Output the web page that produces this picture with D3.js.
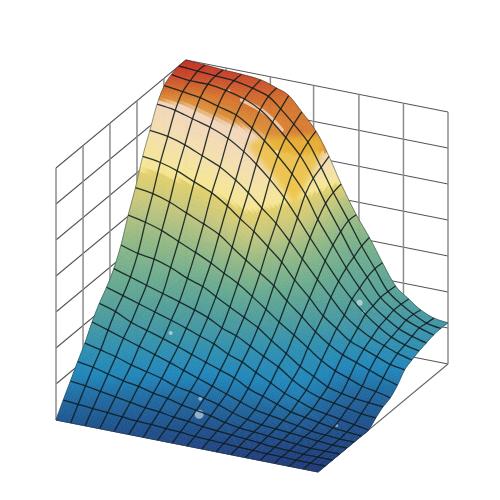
<!DOCTYPE html>
<html><head><meta charset="utf-8"><style>html,body{margin:0;background:#fff}svg{display:block}</style>
<script src="https://cdn.jsdelivr.net/npm/d3@7"></script></head><body><svg id="c" width="500" height="500"></svg>
<script>
// Surface heights (rows run from the front edge to the back edge), in percent of box height
const heightRows = [
[0,0,0,0,0,0,0,0,0,0,0,0,0,0,0,0,0,0,0],
[5.5,5,4.5,4,3.5,3,2.8,2.3,2,1.5,1.2,1,.7,.5,.3,.2,0,0,0],
[10.7,10,9,8,7,6,5.5,4.5,4,3,2.5,2,1.5,1,.5,.3,0,0,0],
[16,15,13.5,12,11,9.5,8.5,7,6,5,3.5,2.5,2,1.5,1,.5,0,0,0],
[21,19.5,18,16,14.5,13,11,10,8.5,7,5,3.5,2.5,2,1.5,1,.5,0,0],
[27,25,23,21,19,17,15,13,11,9,7,5,4,3,2,1,.5,0,0],
[32,30,27,25,23,21,19,17,15,13,10,8,6,4,3,2,1,.5,0],
[36,34,32,30,28,26,24,22,19,17,14,11,8,6,4,3,2,1,0],
[41,39,37,35,33,31,29,26,24,21,18,15,11,8,6,5,4,3,2.4],
[48,46,45,43,40,38,35,32,29,26,22,18,14,11,8,6.5,5.5,5,4.4],
[57.5,56,54,51,48,45,42,39,35,31,27,23,19,15,12,10,8,7,5.6],
[66,65,63,60,57,54,50,46,42,38,33,28,23,19,16,14,12,10,8.3],
[76,75,73,70,67,63,59,55,50,45,39,33,27,23,19,17,15,13,12],
[84,83,81,78,75,71,67,62,57,51,45,38,32,26,22,19,17,15,13.5],
[92,91,89,87,84,80,76,71,65,58,51,43,36,30,25,21,18,16,14.7],
[97,96,95,93,91,87,83,78,72,65,56,47,39,32,26,22,19,17,15.5],
[99,98,98,97,95,92,88,83,77,69,60,50,41,34,27,23,20,18,16.3],
[100,99.5,99,98.5,97,95,91,86,80,71,62,52,43,35,27,23,20,17.5,16.5],
[100,99.5,99,98.7,98,96,94,88.5,82,73,63,52,44,35,26.8,22.7,19.3,17.1,16.3]];
const columnsFront = [0,.056,.111,.167,.222,.278,.333,.389,.444,.5,.556,.611,.667,.722,.778,.833,.889,.944,1];
const columnsBack  = [0,.073,.142,.212,.285,.346,.392,.442,.496,.546,.592,.65,.7,.75,.8,.85,.896,.946,1];
const wallTicksLeft = [0,.208,.415,.623,.83,1];
const wallTicksBack = [0,.153,.322,.487,.66,.83,1];
const wallTicksZ = [0,1/7,2/7,3/7,4/7,5/7,6/7,1];
// Colour ramp: level (pixel row on the left flank) to colour
const rampLevels = [55,75,90,98.5,101.5,130,165,170,173,200,240,280,320,350,375,400,430,475];
const rampColors = ["#bf281c","#c8442a","#d4722e","#dc8f3a","#f2d6bc","#f3dfae","#f6e696","#f4e390","#e2d06c","#c9c87c","#93b986","#6aab90","#4a9a9f","#2f8fb0","#2086ba","#20689f","#1f4f8a","#203676"];
// Shift of the colour bands across the picture
const shiftX = [50,100,150,200,250,300,350,400,450];
const shiftY = [50,75,100,125,150,200,250,300,350,400,450,500];
const shiftTable = [
[0,0,0,0,0,0,0,0,0],
[0,0,0,0,0,0,0,0,0],
[0,0,0,4,12,10,10,0,0],
[0,0,0,20,27,32,32,0,0],
[0,0,0,20,42,60,50,0,0],
[0,0,0,13,45,30,-15,-15,-15],
[0,0,0,10,30,15,-20,-20,-20],
[0,0,0,0,10,5,-5,-10,-10],
[0,0,0,0,0,-3,-8,-5,-5],
[0,0,0,0,6,15,-8,-5,0],
[0,0,0,0,0,0,0,0,0],
[0,0,0,0,0,0,0,0,0]];
// Glints [u,v,z,r]
const glints = [[.472,.15,.056,4.5],[.452,.2,.092,2],[.289,.3,.276,2],[.762,.8,.28,3],[.777,.8,.246,1.5],[.922,.3,.04,1.5],[.189,.95,.937,1.5],[.445,.8,.812,2]];
const glintArc = [[.263,.9,.938],[.347,.9,.908],[.415,.9,.851]];
const goldWedge = [[.36,.85,.83],[.6,.85,.89],[.6,.85,.82],[.489,.85,.59],[.394,.85,.701],[.306,.85,.79]];

const uX=d3.scaleLinear([0,1],[56,318]), uY=d3.scaleLinear([0,1],[420,472]);
const vX=d3.scaleLinear([0,1],[0,130]), vY=d3.scaleLinear([0,1],[0,-108]);
const zY=d3.scaleLinear([0,1],[0,-252]);
const P=(u,v,z)=>[uX(u)+vX(v),uY(u)+vY(v)+zY(z)];
const N=heightRows.length-1, M=heightRows[0].length-1;
const colAt=(i,j)=>columnsFront[i]+(columnsBack[i]-columnsFront[i])*j/N;
const node=(i,j)=>P(colAt(i,j),j/N,heightRows[j][i]/100);
const ramp=d3.scaleLinear(rampLevels,rampColors).clamp(true);
function shift(x,y){
  const cx=Math.max(50,Math.min(449.9,x)),cy=Math.max(50,Math.min(499.9,y));
  const i=d3.bisectRight(shiftX,cx)-1,j=d3.bisectRight(shiftY,cy)-1;
  const f=(cx-shiftX[i])/(shiftX[i+1]-shiftX[i]),g=(cy-shiftY[j])/(shiftY[j+1]-shiftY[j]),t=shiftTable;
  return (t[j][i]*(1-f)+t[j][i+1]*f)*(1-g)+(t[j+1][i]*(1-f)+t[j+1][i+1]*f)*g;
}
const svg=d3.select("#c");
const defs=svg.append("defs");
defs.append("filter").attr("id","soft").append("feGaussianBlur").attr("stdDeviation",.4);
defs.append("filter").attr("id","wide").attr("x","-30%").attr("y","-30%").attr("width","160%").attr("height","160%").append("feGaussianBlur").attr("stdDeviation",3);
const root=svg.append("g").attr("filter","url(#soft)");
const walls=root.append("g").attr("fill","none");
const L=d3.line();
wallTicksZ.forEach(z=>{
  walls.append("path").attr("d",L([P(0,0,z),P(0,1,z),P(1,1,z)])).attr("stroke","#555").attr("stroke-width",1.1);
});
wallTicksLeft.forEach(v=>walls.append("path").attr("d",L([P(0,v,0),P(0,v,1)])).attr("stroke","#8c8c8c").attr("stroke-width",1.5));
wallTicksBack.forEach(u=>walls.append("path").attr("d",L([P(u,1,0),P(u,1,1)])).attr("stroke","#8c8c8c").attr("stroke-width",1.5));
walls.append("path").attr("d",L([P(0,0,0),P(1,0,0),P(1,1,0)])).attr("stroke","#666").attr("stroke-width",1.1);

// smooth sampling of the node lattice (Catmull-Rom in both directions)
const cr=(t)=>[(-t*t*t+2*t*t-t)/2,(3*t*t*t-5*t*t+2)/2,(-3*t*t*t+4*t*t+t)/2,(t*t*t-t*t)/2];
const at=(i,j)=>node(Math.max(0,Math.min(M,i)),Math.max(0,Math.min(N,j)));
const pt=(a,b)=>{
  const i=Math.min(M-1,Math.floor(a)),j=Math.min(N-1,Math.floor(b));
  const wa=cr(a-i),wb=cr(b-j);let x=0,y=0;
  for(let m=0;m<4;m++)for(let n=0;n<4;n++){const p=at(i+n-1,j+m-1),w=wa[n]*wb[m];x+=p[0]*w;y+=p[1]*w;}
  return [x,y];
};
const sub=6, cells=root.append("g");
const quads=[];
for(let j=N*sub-1;j>=0;j--)for(let i=0;i<M*sub;i++){
  const q=[pt(i/sub,j/sub),pt((i+1)/sub,j/sub),pt((i+1)/sub,(j+1)/sub),pt(i/sub,(j+1)/sub)];
  const c=pt((i+.5)/sub,(j+.5)/sub);
  quads.push({q,color:ramp(c[1]-shift(c[0],c[1]))});
}
cells.selectAll("path").data(quads).join("path")
 .attr("d",d=>L(d.q)+"Z").attr("fill",d=>d.color).attr("stroke",d=>d.color).attr("stroke-width",.6);

const outline=[];
const fine=d3.range(0,M*sub+1).map(t=>t/sub), fineN=d3.range(0,N*sub+1).map(t=>t/sub);
fine.forEach(a=>outline.push(pt(a,0)));
fineN.forEach(b=>outline.push(pt(M,b)));
fine.slice().reverse().forEach(a=>outline.push(pt(a,N)));
fineN.slice().reverse().forEach(b=>outline.push(pt(0,b)));
defs.append("clipPath").attr("id","surf").append("path").attr("d",L(outline)+"Z");
const over=root.append("g").attr("clip-path","url(#surf)");
over.append("path").attr("d",L(goldWedge.map(d=>P(...d)))+"Z").attr("fill","#ebbd3a").attr("opacity",.8).attr("filter","url(#wide)");
over.append("path").attr("d",d3.line().curve(d3.curveCatmullRom)(glintArc.map(d=>P(...d)))).attr("fill","none").attr("stroke","#f6dcc0").attr("stroke-width",4).attr("stroke-linecap","round").attr("opacity",.8);
over.selectAll("circle").data(glints).join("circle").attr("cx",d=>P(d[0],d[1],d[2])[0]).attr("cy",d=>P(d[0],d[1],d[2])[1]).attr("r",d=>d[3]).attr("fill","#fff").attr("opacity",.5);

const mesh=root.append("g").attr("fill","none").attr("stroke","#101c20").attr("stroke-width",1.3).attr("stroke-opacity",.88);
const C=d3.line().curve(d3.curveCatmullRom);
for(let j=1;j<N;j++)mesh.append("path").attr("d",C(d3.range(M+1).map(i=>node(i,j))));
for(let i=1;i<M;i++)mesh.append("path").attr("d",C(d3.range(N+1).map(j=>node(i,j))));
root.append("path").attr("d",L(outline)+"Z").attr("fill","none").attr("stroke","#2a3a3a").attr("stroke-width",.7).attr("stroke-opacity",.7);
</script></body></html>
